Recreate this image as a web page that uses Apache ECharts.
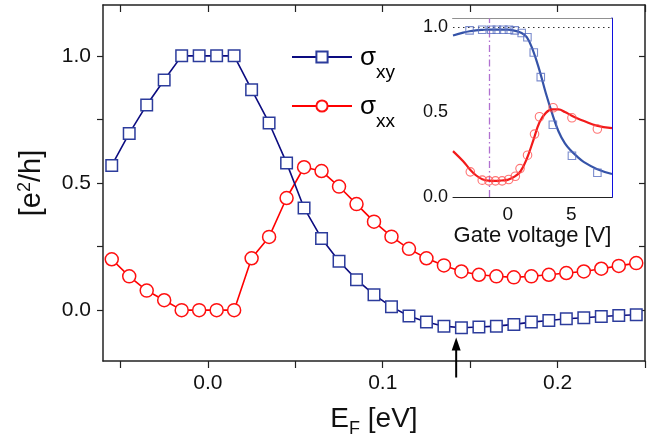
<!DOCTYPE html>
<html><head><meta charset="utf-8">
<script src="https://cdn.jsdelivr.net/npm/echarts@6/dist/echarts.min.js"></script>
<style>html,body{margin:0;padding:0;background:#fff}#c{width:660px;height:443px}</style>
</head><body><div id="c"></div>
<script>
// ---------- data ----------
const energyEF = [-0.055,-0.045,-0.035,-0.025,-0.015,-0.005,0.005,0.015,0.025,0.035,0.045,0.055,0.065,0.075,0.085,0.095,0.105,0.115,0.125,0.135,0.145,0.155,0.165,0.175,0.185,0.195,0.205,0.215,0.225,0.235,0.245];
const sigmaXY = [0.569,0.695,0.807,0.905,1.0,1.0,1.0,1.0,0.867,0.736,0.579,0.402,0.282,0.192,0.12,0.061,0.013,-0.023,-0.047,-0.063,-0.069,-0.066,-0.063,-0.056,-0.047,-0.041,-0.034,-0.030,-0.025,-0.021,-0.018];
const sigmaXX = [0.200,0.133,0.077,0.039,0,0,0,0,0.204,0.288,0.441,0.562,0.547,0.486,0.417,0.348,0.289,0.241,0.204,0.176,0.152,0.139,0.133,0.129,0.133,0.139,0.146,0.152,0.163,0.174,0.185];

// inset: measured points
const gateXY = [-3.0,-2.0,-1.3,-0.85,-0.35,0.1,0.55,1.1,1.55,2.05,2.6,3.55,5.05,7.05];
const insetXY = [0.98,0.984,0.984,0.984,0.984,0.984,0.98,0.965,0.94,0.85,0.705,0.425,0.243,0.143];
const gateXX = [-2.94,-2.0,-1.48,-0.96,-0.44,0.08,0.6,0.97,1.56,2.11,2.5,3.57,5.05,7.05];
const insetXX = [0.148,0.099,0.095,0.095,0.095,0.103,0.122,0.167,0.246,0.37,0.472,0.525,0.466,0.40];
// inset: fit curves
const fitV = [-4.3,-3.5,-3,-2.5,-2,-1.5,-1,-0.5,0,0.5,1,1.5,2,2.5,3,3.5,4,4.5,5,5.5,6,7,8.2];
const fitXY = [0.95,0.967,0.975,0.98,0.983,0.985,0.985,0.985,0.984,0.979,0.968,0.94,0.86,0.745,0.61,0.49,0.385,0.315,0.27,0.235,0.205,0.165,0.135];
const fitXX = [0.27,0.21,0.165,0.128,0.105,0.096,0.095,0.097,0.101,0.118,0.15,0.225,0.33,0.44,0.495,0.515,0.515,0.5,0.48,0.462,0.447,0.42,0.405];
const gateMarker = -1.45;
const quantumLevel = 1.0;

// ticks / labels
const mainXTicks = [-0.05,0,0.05,0.1,0.15,0.2,0.25];
const mainXLabels = [0,0.1,0.2];
const mainYTicks = [0,0.25,0.5,0.75,1.0];
const mainYLabels = [0,0.5,1.0];
const insetXTicks = [-2.5,0,2.5,5,7.5];
const insetXLabels = [0,5];
const insetYTicks = [0,0.25,0.5,0.75,1.0];
const insetYLabels = [0,0.5,1.0];
const insetRightTicks = [0.1,0.2,0.3,0.4,0.5,0.6,0.7,0.8,0.9];

// arrow annotation (data units)
const arrowE = 0.142, arrowTip = -0.108, arrowTail = -0.265;

const FONT = 'Liberation Sans, Arial, Helvetica, sans-serif';
const zip = (a,b) => a.map((v,i)=>[v,b[i]]);

const chart = echarts.init(document.getElementById('c'), null, {renderer:'canvas'});

const axLine = {show:true, onZero:false, lineStyle:{color:'#222', width:1.5}};
const inAx = {show:true, onZero:false, lineStyle:{color:'#222', width:1}};

const option = {
  animation:false,
  backgroundColor:'#fff',
  textStyle:{fontFamily:FONT},
  grid:[
    {left:103, right:15, top:5, bottom:80, containLabel:false},
    {left:453, right:48, top:18.5, bottom:246, show:true, backgroundColor:'#fff', borderWidth:0, z:5}
  ],
  legend:{
    data:['σxy','σxx'], orient:'vertical', left:291, top:44, padding:0,
    itemWidth:60, itemHeight:14, itemGap:11, selectedMode:false,
    formatter: n => n==='σxy' ? '{s|σ}{b|xy}' : '{s|σ}{b|xx}',
    textStyle:{fontFamily:FONT, color:'#000', rich:{
      s:{fontSize:26, lineHeight:26, verticalAlign:'top', padding:[1,0,0,3], fontFamily:FONT, color:'#000'},
      b:{fontSize:19, lineHeight:19, verticalAlign:'top', padding:[19,0,0,0], fontFamily:FONT, color:'#000'}
    }}
  },
  xAxis:[
    {gridIndex:0, type:'value', min:-0.06, max:0.25, axisLine:axLine, splitLine:{show:false},
     axisTick:{show:true, customValues:mainXTicks, length:7, inside:false, lineStyle:{color:'#222', width:1.2}},
     axisLabel:{customValues:mainXLabels, formatter:v=>v.toFixed(1), fontSize:21, color:'#111', margin:12, fontFamily:FONT},
     name:'{n|E}{sub|F}{n| [eV]}', nameLocation:'middle', nameGap:44,
     nameTextStyle:{fontFamily:FONT, rich:{
       n:{fontSize:28, lineHeight:28, verticalAlign:'top', color:'#111', fontFamily:FONT},
       sub:{fontSize:18, lineHeight:18, verticalAlign:'top', padding:[15,0,0,0], color:'#111', fontFamily:FONT}}}},
    {gridIndex:0, type:'value', position:'top', min:-0.06, max:0.25, axisLine:axLine, splitLine:{show:false},
     axisTick:{show:true, customValues:mainXTicks, length:7, inside:true, lineStyle:{color:'#222', width:1.2}},
     axisLabel:{show:false}},
    {gridIndex:1, type:'value', min:-4.3, max:8.2, axisLine:inAx, splitLine:{show:false},
     axisTick:{show:true, customValues:insetXTicks, length:4, inside:true, lineStyle:{color:'#222', width:1}},
     axisLabel:{customValues:insetXLabels, fontSize:19, color:'#111', margin:8, fontFamily:FONT},
     name:'Gate voltage [V]', nameLocation:'middle', nameGap:26,
     nameTextStyle:{fontSize:22, color:'#111', fontFamily:FONT}},
    {gridIndex:1, type:'value', position:'top', min:-4.3, max:8.2, axisLine:inAx, splitLine:{show:false},
     axisTick:{show:true, customValues:insetXTicks, length:4, inside:true, lineStyle:{color:'#222', width:1}},
     axisLabel:{show:false}}
  ],
  yAxis:[
    {gridIndex:0, type:'value', min:-0.2, max:1.2, axisLine:axLine, splitLine:{show:false},
     axisTick:{show:true, customValues:mainYTicks, length:6, inside:false, lineStyle:{color:'#222', width:1.2}},
     axisLabel:{customValues:mainYLabels, formatter:v=>v.toFixed(1), fontSize:21, color:'#111', margin:12, fontFamily:FONT},
     name:'{n|[e}{sup|2}{n|/h]}', nameLocation:'middle', nameRotate:90, nameGap:55,
     nameTextStyle:{fontFamily:FONT, rich:{
       n:{fontSize:29, lineHeight:32, color:'#111', fontFamily:FONT},
       sup:{fontSize:18, lineHeight:18, verticalAlign:'top', color:'#111', fontFamily:FONT}}}},
    {gridIndex:0, type:'value', position:'right', min:-0.2, max:1.2, axisLine:axLine, splitLine:{show:false},
     axisTick:{show:true, customValues:mainYTicks, length:6, inside:true, lineStyle:{color:'#222', width:1.2}},
     axisLabel:{show:false}},
    {gridIndex:1, type:'value', min:0, max:1.05, axisLine:inAx, splitLine:{show:false},
     axisTick:{show:true, customValues:insetYTicks, length:4, inside:true, lineStyle:{color:'#222', width:1}},
     axisLabel:{customValues:insetYLabels, formatter:v=>v.toFixed(1), fontSize:18, color:'#111', margin:5, fontFamily:FONT}},
    {gridIndex:1, type:'value', position:'right', min:0, max:1.05, axisLine:{show:true, onZero:false, lineStyle:{color:'#1010e0', width:2}}, splitLine:{show:false},
     axisTick:{show:true, customValues:insetRightTicks, length:4, inside:true, lineStyle:{color:'#444', width:1}},
     axisLabel:{show:false}}
  ],
  series:[
    {name:'σxy', type:'line', xAxisIndex:0, yAxisIndex:0, data:zip(energyEF, sigmaXY),
     symbol:'rect', symbolSize:11.5, showAllSymbol:true,
     itemStyle:{color:'#fff', borderColor:'#2c3c9c', borderWidth:1.5},
     lineStyle:{color:'#0c0c80', width:1.6}, z:3},
    {name:'σxx', type:'line', xAxisIndex:0, yAxisIndex:0, data:zip(energyEF, sigmaXX),
     symbol:'circle', symbolSize:13, showAllSymbol:true,
     itemStyle:{color:'#fff', borderColor:'#ff1010', borderWidth:1.5},
     lineStyle:{color:'#ff0000', width:1.6}, z:2},
    {name:'fitXY', type:'line', xAxisIndex:2, yAxisIndex:2, data:zip(fitV, fitXY), showSymbol:false, smooth:0.4,
     lineStyle:{color:'#3553a8', width:2.2}, z:7,
     markLine:{silent:true, symbol:'none', label:{show:false},
       data:[
         {xAxis:gateMarker, lineStyle:{color:'#b070d0', width:1.3, type:[7,3,1.5,3]}},
         {yAxis:quantumLevel, lineStyle:{color:'#333', width:1, type:[1.5,3.5]}}
       ]}},
    {name:'fitXX', type:'line', xAxisIndex:2, yAxisIndex:2, data:zip(fitV, fitXX), showSymbol:false, smooth:0.4,
     lineStyle:{color:'#f21a1a', width:2.2}, z:7},
    {name:'ptXY', type:'scatter', xAxisIndex:2, yAxisIndex:2, data:zip(gateXY, insetXY),
     symbol:'rect', symbolSize:7.5, itemStyle:{color:'rgba(0,0,0,0)', borderColor:'#5a6fc0', borderWidth:1.1}, z:8},
    {name:'ptXX', type:'scatter', xAxisIndex:2, yAxisIndex:2, data:zip(gateXX, insetXX),
     symbol:'circle', symbolSize:8.5, itemStyle:{color:'rgba(0,0,0,0)', borderColor:'#ff5050', borderWidth:1.1}, z:8}
  ]
};
chart.setOption(option);

const tip = chart.convertToPixel({xAxisIndex:0, yAxisIndex:0}, [arrowE, arrowTip]);
const tail = chart.convertToPixel({xAxisIndex:0, yAxisIndex:0}, [arrowE, arrowTail]);
chart.setOption({graphic:[
  {type:'line', shape:{x1:tail[0], y1:tail[1], x2:tip[0], y2:tip[1]+10}, style:{stroke:'#000', lineWidth:2}, z:20},
  {type:'polygon', shape:{points:[[tip[0],tip[1]],[tip[0]-4.5,tip[1]+13],[tip[0]+4.5,tip[1]+13]]}, style:{fill:'#000'}, z:20}
]});
</script></body></html>
